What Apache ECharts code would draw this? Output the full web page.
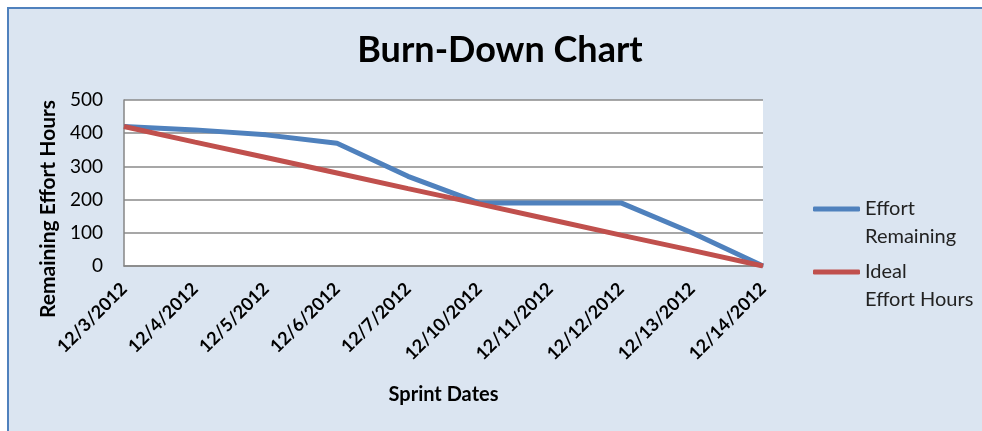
<!DOCTYPE html>
<html>
<head>
<meta charset="utf-8">
<script src="https://cdn.jsdelivr.net/npm/echarts@6/dist/echarts.min.js"></script>
<style>
  html, body { margin: 0; padding: 0; background: #ffffff; overflow: hidden; }
  #frame {
    position: absolute; left: 7px; top: 7px; width: 990px; height: 440px;
    background: #dbe5f1; border-left: 2px solid #4f81bd; border-top: 2px solid #4f81bd;
  }
  #main { position: absolute; left: 0; top: 0; width: 982px; height: 431px; }
</style>
</head>
<body>
<div id="frame"></div>
<div id="main"></div>
<script>
// sprint days
const sprintDates = ['12/3/2012', '12/4/2012', '12/5/2012', '12/6/2012', '12/7/2012',
    '12/10/2012', '12/11/2012', '12/12/2012', '12/13/2012', '12/14/2012']
const effortRemaining = [420, 410, 395, 370, 270, 190, 190, 190, 100, 0]
const idealEffort = [420, 373, 327, 280, 233, 187, 140, 93, 47, 0]
const yTicks = [0, 100, 200, 300, 400, 500]

const font = 'Lato, "Open Sans", sans-serif'

let chart = echarts.init(document.getElementById('main'), null, { renderer: 'canvas' })

// legend text: a blank first line keeps the icon level with the first real line
let legendLabel = (name) => name === 'Effort Remaining' ? '\nEffort\nRemaining' : '\nIdeal\nEffort Hours'

let option = {
    backgroundColor: 'transparent',
    animation: false,
    title: {
        text: 'Burn-Down Chart',
        left: 495,
        textAlign: 'center',
        top: 27,
        textStyle: { fontFamily: font, fontSize: 36, fontWeight: 'bold', color: '#000' }
    },
    legend: {
        orient: 'vertical',
        left: 813,
        top: 167,
        padding: 0,
        itemWidth: 47,
        itemHeight: 5,
        itemGap: -21,
        icon: 'roundRect',
        textStyle: { fontFamily: font, fontSize: 20, color: '#222', lineHeight: 28 },
        formatter: legendLabel,
        data: ['Effort Remaining', 'Ideal Effort Hours']
    },
    grid: {
        left: 124, right: 219, top: 100, bottom: 165,
        show: true, backgroundColor: '#ffffff', borderWidth: 0
    },
    xAxis: {
        type: 'category',
        data: sprintDates,
        boundaryGap: false,
        name: 'Sprint Dates',
        nameLocation: 'middle',
        nameGap: 119,
        nameTextStyle: { fontFamily: font, fontSize: 20, fontWeight: 'bold', color: '#000' },
        axisLine: { lineStyle: { color: '#868686', width: 1.5 } },
        axisTick: { show: false },
        axisLabel: {
            rotate: 45, margin: 20, interval: 0,
            fontFamily: font, fontSize: 18, fontWeight: 'bold', color: '#000'
        }
    },
    yAxis: {
        type: 'value',
        min: yTicks[0],
        max: yTicks[yTicks.length - 1],
        interval: 100,
        name: 'Remaining Effort Hours',
        nameLocation: 'middle',
        nameGap: 63,
        nameTextStyle: {
            fontFamily: font, fontSize: 21, fontWeight: 'bold', color: '#000',
            padding: [0, 52, 0, 0]
        },
        axisLine: { show: true, lineStyle: { color: '#868686', width: 1.5 } },
        axisTick: { show: false },
        splitLine: { lineStyle: { color: '#8a8a8a', width: 1.5 } },
        axisLabel: { margin: 21, fontFamily: font, fontSize: 19, color: '#000' }
    },
    series: [
        {
            name: 'Effort Remaining',
            type: 'line',
            data: effortRemaining,
            symbol: 'none',
            lineStyle: { color: '#4f81bd', width: 5 },
            itemStyle: { color: '#4f81bd' }
        },
        {
            name: 'Ideal Effort Hours',
            type: 'line',
            data: idealEffort,
            symbol: 'none',
            lineStyle: { color: '#c0504d', width: 5 },
            itemStyle: { color: '#c0504d' }
        }
    ]
}

chart.setOption(option)
</script>
</body>
</html>
